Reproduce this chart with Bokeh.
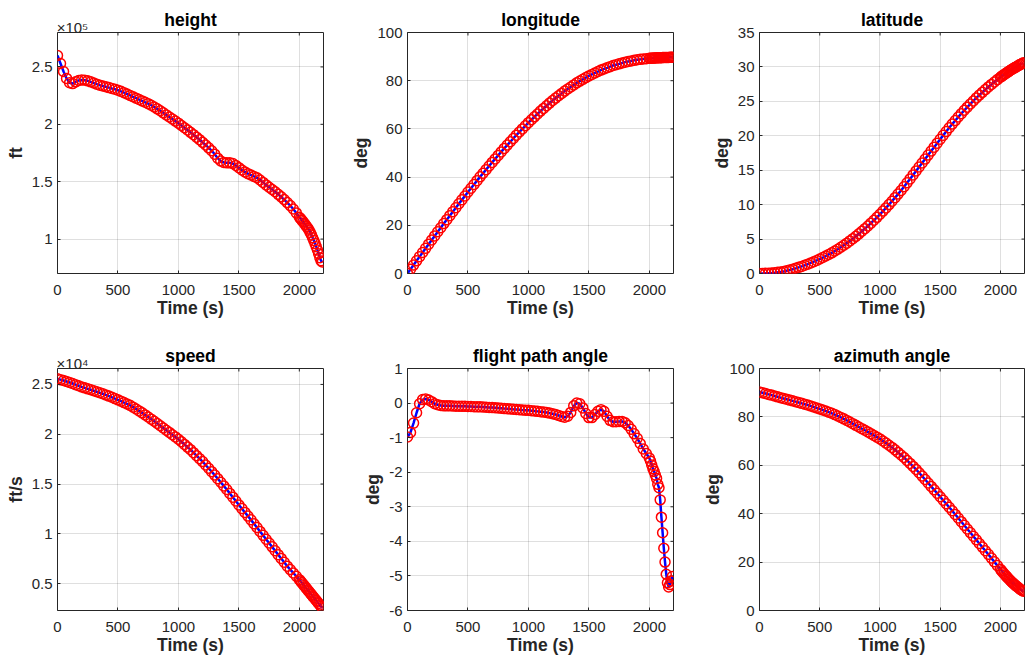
import math
from bokeh.plotting import figure
from bokeh.layouts import column, row
from bokeh.models import FixedTicker, LinearAxis, Range1d
from bokeh.embed import file_html
from bokeh.resources import INLINE

# ---------------- data ----------------
T = [0, 25, 50, 75, 100, 125, 150, 175, 200, 225,
     250, 275, 300, 325, 350, 375, 400, 425, 450, 475,
     500, 525, 550, 575, 600, 625, 650, 675, 700, 725,
     750, 775, 800, 825, 850, 875, 900, 925, 950, 975,
     1000, 1025, 1050, 1075, 1100, 1125, 1150, 1175, 1200, 1225,
     1250, 1275, 1300, 1325, 1350, 1375, 1400, 1425, 1450, 1475,
     1500, 1525, 1550, 1575, 1600, 1625, 1650, 1675, 1700, 1725,
     1750, 1775, 1800, 1825, 1850, 1875, 1900, 1925, 1950, 1975,
     2000,
     2010, 2020, 2030, 2040, 2050, 2060, 2070, 2080, 2090, 2100,
     2110, 2120, 2130, 2140, 2150, 2160, 2170, 2180, 2190]

HEIGHT_FT = [260000, 253000, 246000, 240000, 236200, 235500, 237000, 238200, 238600, 238500,
             237900, 237000, 236000, 235000, 234100, 233400, 232700, 232000, 231200, 230500,
             229700, 228700, 227600, 226400, 225200, 224000, 222800, 221600, 220400, 219200,
             218000, 216600, 215100, 213500, 211800, 210000, 208200, 206400, 204600, 202800,
             201000, 199000, 197000, 195000, 193000, 191000, 188800, 186600, 184300, 182000,
             179500, 177000, 174000, 170500, 168000, 166800, 166400, 166400, 165800, 164200,
             162200, 160200, 158500, 157000, 155800, 154600, 153400, 151500, 149400, 147200,
             145200, 143200, 141200, 139000, 136800, 134400, 131800, 129200, 126200, 122800,
             119000,
             117800, 116500, 115200, 113800, 112400, 111000, 109500, 107800, 105800, 103600,
             101200, 98800, 96200, 93400, 90400, 87200, 83800, 81000, 80000]

LONGITUDE_DEG = [0.0, 1.75, 3.5, 5.25, 7.0, 8.73, 10.45, 12.18, 13.9, 15.6,
                 17.3, 19.0, 20.7, 22.35, 24.0, 25.65, 27.3, 28.93, 30.55, 32.18,
                 33.8, 35.38, 36.95, 38.53, 40.1, 41.6, 43.1, 44.6, 46.1, 47.55,
                 49.0, 50.45, 51.9, 53.28, 54.65, 56.03, 57.4, 58.7, 60.0, 61.3,
                 62.6, 63.8, 65.0, 66.2, 67.4, 68.5, 69.6, 70.7, 71.8, 72.78,
                 73.75, 74.73, 75.7, 76.55, 77.4, 78.25, 79.1, 79.83, 80.55, 81.28,
                 82.0, 82.6, 83.2, 83.8, 84.4, 84.88, 85.35, 85.83, 86.3, 86.65,
                 87.0, 87.35, 87.7, 87.95, 88.2, 88.45, 88.7, 88.85, 89.0, 89.15,
                 89.3,
                 89.33, 89.36, 89.39, 89.42, 89.45, 89.48, 89.5, 89.52, 89.55, 89.57,
                 89.59, 89.61, 89.63, 89.65, 89.66, 89.67, 89.68, 89.69, 89.7]

LATITUDE_DEG = [0.0, 0.0, 0.02, 0.05, 0.08, 0.12, 0.17, 0.23, 0.3, 0.4,
                0.5, 0.62, 0.75, 0.89, 1.03, 1.19, 1.35, 1.53, 1.71, 1.9,
                2.1, 2.32, 2.54, 2.77, 3.0, 3.26, 3.53, 3.81, 4.1, 4.41,
                4.73, 5.06, 5.4, 5.76, 6.13, 6.51, 6.9, 7.31, 7.73, 8.16,
                8.6, 9.06, 9.53, 10.01, 10.5, 11.01, 11.53, 12.06, 12.6, 13.17,
                13.74, 14.32, 14.9, 15.47, 16.05, 16.62, 17.2, 17.78, 18.35, 18.93,
                19.5, 20.06, 20.61, 21.16, 21.7, 22.21, 22.72, 23.21, 23.7, 24.16,
                24.61, 25.06, 25.5, 25.91, 26.31, 26.71, 27.1, 27.46, 27.81, 28.16,
                28.5,
                28.63, 28.76, 28.88, 29.0, 29.12, 29.24, 29.36, 29.48, 29.59, 29.7,
                29.8, 29.9, 30.0, 30.1, 30.2, 30.3, 30.4, 30.5, 30.6]

SPEED_FTS = [25560, 25480, 25390, 25300, 25200, 25090, 24980, 24870, 24750, 24660,
             24560, 24470, 24370, 24270, 24160, 24060, 23950, 23830, 23710, 23580,
             23450, 23320, 23180, 23040, 22900, 22720, 22530, 22340, 22150, 21940,
             21730, 21510, 21300, 21080, 20850, 20630, 20400, 20180, 19950, 19730,
             19500, 19240, 18980, 18710, 18450, 18150, 17850, 17550, 17250, 16910,
             16580, 16240, 15900, 15540, 15180, 14810, 14450, 14060, 13680, 13290,
             12900, 12530, 12150, 11780, 11400, 11010, 10630, 10240, 9850, 9460,
             9080, 8690, 8300, 7910, 7530, 7140, 6750, 6410, 6070, 5740,
             5400,
             5250, 5100, 4950, 4800, 4650, 4500, 4350, 4200, 4050, 3900,
             3750, 3600, 3450, 3300, 3150, 3000, 2850, 2700, 2550]

FPA_DEG = [-0.98, -0.85, -0.58, -0.28, -0.02, 0.10, 0.12, 0.09, 0.04, -0.02,
           -0.05, -0.07, -0.08, -0.08, -0.08, -0.085, -0.09, -0.09, -0.095, -0.095,
           -0.10, -0.10, -0.105, -0.11, -0.11, -0.115, -0.12, -0.125, -0.13, -0.135,
           -0.14, -0.15, -0.16, -0.165, -0.17, -0.18, -0.185, -0.19, -0.20, -0.205,
           -0.21, -0.22, -0.23, -0.24, -0.25, -0.26, -0.27, -0.29, -0.31, -0.33,
           -0.36, -0.39, -0.41, -0.38, -0.27, -0.08, 0.0, -0.02, -0.14, -0.30,
           -0.42, -0.42, -0.33, -0.24, -0.19, -0.24, -0.38, -0.50, -0.54, -0.54,
           -0.53, -0.53, -0.57, -0.65, -0.76, -0.89, -1.02, -1.17, -1.33, -1.46,
           -1.59,
           -1.68, -1.79, -1.90, -1.98, -2.08, -2.18, -2.35, -2.45, -2.80, -3.30,
           -3.75, -4.20, -4.60, -4.95, -5.20, -5.32, -5.25, -5.15, -5.02]

AZIMUTH_DEG = [90.3, 90.0, 89.65, 89.3, 89.0, 88.65, 88.3, 87.95, 87.6, 87.28,
               86.95, 86.63, 86.3, 85.95, 85.6, 85.25, 84.9, 84.5, 84.1, 83.7,
               83.3, 82.86, 82.42, 81.96, 81.5, 80.95, 80.37, 79.8, 79.2, 78.54,
               77.87, 77.2, 76.5, 75.83, 75.15, 74.48, 73.8, 73.08, 72.35, 71.63,
               70.9, 70.05, 69.18, 68.3, 67.4, 66.38, 65.33, 64.27, 63.2, 62.0,
               60.78, 59.55, 58.3, 56.93, 55.53, 54.12, 52.7, 51.28, 49.85, 48.43,
               47.0, 45.55, 44.1, 42.65, 41.2, 39.7, 38.2, 36.7, 35.2, 33.7,
               32.2, 30.7, 29.2, 27.7, 26.2, 24.7, 23.2, 21.65, 20.1, 18.55,
               17.0,
               16.4, 15.8, 15.2, 14.65, 14.1, 13.55, 13.0, 12.5, 12.0, 11.5,
               11.05, 10.6, 10.2, 9.8, 9.4, 9.0, 8.6, 8.3, 8.0]

X_LIMITS = (0, 2200)
X_TICKS = [0, 500, 1000, 1500, 2000]
HEIGHT_TICKS = [100000, 150000, 200000, 250000]
HEIGHT_LABELS = ["1", "1.5", "2", "2.5"]
LON_TICKS = [0, 20, 40, 60, 80, 100]
LAT_TICKS = [0, 5, 10, 15, 20, 25, 30, 35]
SPEED_TICKS = [5000, 10000, 15000, 20000, 25000]
SPEED_LABELS = ["0.5", "1", "1.5", "2", "2.5"]
FPA_TICKS = [-6, -5, -4, -3, -2, -1, 0, 1]
AZ_TICKS = [0, 20, 40, 60, 80, 100]

FONT = "Liberation Sans"
AX = "#262626"

# layout geometry (borders around each plot frame, pixels)
COL_LEFT = [57, 67, 73]
COL_RIGHT = [17, 13, 1]
COL_FRAME_W = [266, 266, 265]
ROW_TOP = [32, 44]
ROW_BOTTOM = [51, 48]
ROW_FRAME_H = [241, 242]
EXP_ANCHOR_X = 124   # x position (s) where the "x10^n" multiplier is centred


def panel(title, ylabel, y, yrange, yticks, ylabels, col, rw, exponent=None):
    left, right, fw = COL_LEFT[col], COL_RIGHT[col], COL_FRAME_W[col]
    top, bottom, fh = ROW_TOP[rw], ROW_BOTTOM[rw], ROW_FRAME_H[rw]
    p = figure(width=left + fw + right, height=top + fh + bottom,
               x_range=Range1d(*X_LIMITS), y_range=Range1d(*yrange),
               output_backend="svg", toolbar_location=None,
               min_border_left=left, min_border_right=right,
               min_border_top=top, min_border_bottom=bottom,
               title=None if exponent else title,
               background_fill_color="white", border_fill_color="white")
    p.outline_line_color = AX
    p.outline_line_width = 1
    if not exponent:
        p.title.align = "center"
        p.title.text_font = FONT
        p.title.text_font_size = "17.5px"
        p.title.text_font_style = "bold"
        p.title.text_color = "black"
        p.title.standoff = 5

    xa = p.xaxis[0]
    ya = p.yaxis[0]
    for a in (xa, ya):
        a.axis_line_color = None
        a.major_tick_in = 3
        a.major_tick_out = 0
        a.major_tick_line_color = AX
        a.minor_tick_line_color = None
        a.major_label_text_font = FONT
        a.major_label_text_font_size = "15px"
        a.major_label_text_color = AX
        a.axis_label_text_font = FONT
        a.axis_label_text_font_size = "17.5px"
        a.axis_label_text_font_style = "bold"
        a.axis_label_text_color = AX
    xa.ticker = FixedTicker(ticks=X_TICKS)
    xa.axis_label = "Time (s)"
    xa.major_label_standoff = 11
    xa.axis_label_standoff = 0
    ya.ticker = FixedTicker(ticks=yticks)
    ya.major_label_overrides = {v: s for v, s in zip(yticks, ylabels)}
    ya.axis_label = ylabel
    ya.major_label_standoff = 5
    ya.axis_label_standoff = 3

    p.xgrid.ticker = FixedTicker(ticks=X_TICKS)
    p.ygrid.ticker = FixedTicker(ticks=yticks)
    p.grid.grid_line_color = AX
    p.grid.grid_line_alpha = 0.15
    p.grid.grid_line_width = 1

    # mirrored inward tick marks on top and right edges (half of each dash
    # is clipped away by the frame, leaving a short inward tick)
    p.scatter(X_TICKS, [yrange[1]] * len(X_TICKS), marker="dash", size=6,
              angle=math.pi / 2, line_color=AX, line_width=1)
    p.scatter([X_LIMITS[1]] * len(yticks), yticks, marker="dash", size=6,
              angle=0, line_color=AX, line_width=1)

    p.line(T, y, line_color="#0000ff", line_width=2.5)
    p.scatter(T, y, marker="circle", size=10, line_color="#ff0000",
              fill_color=None, line_width=1.5)

    if exponent:
        # top axis: its single tick label carries the "x10^n" multiplier,
        # its axis label carries the panel title
        top_ax = LinearAxis(ticker=FixedTicker(ticks=[EXP_ANCHOR_X]),
                            major_label_overrides={EXP_ANCHOR_X: "\u00d710" + exponent},
                            major_tick_in=0, major_tick_out=0,
                            axis_line_color=None, minor_tick_line_color=None,
                            major_label_standoff=-3,
                            major_label_text_font=FONT,
                            major_label_text_font_size="15px",
                            major_label_text_color=AX,
                            axis_label=title,
                            axis_label_text_font=FONT,
                            axis_label_text_font_size="17.5px",
                            axis_label_text_font_style="bold",
                            axis_label_text_color="black",
                            axis_label_standoff=-14)
        p.add_layout(top_ax, "above")
    return p


lon_lbl = [str(v) for v in LON_TICKS]
lat_lbl = [str(v) for v in LAT_TICKS]
fpa_lbl = [str(v) for v in FPA_TICKS]
az_lbl = [str(v) for v in AZ_TICKS]

p1 = panel("height", "ft", HEIGHT_FT, (70000, 280000), HEIGHT_TICKS, HEIGHT_LABELS, 0, 0, exponent="\u2075")
p2 = panel("longitude", "deg", LONGITUDE_DEG, (0, 100), LON_TICKS, lon_lbl, 1, 0)
p3 = panel("latitude", "deg", LATITUDE_DEG, (0, 35), LAT_TICKS, lat_lbl, 2, 0)
p4 = panel("speed", "ft/s", SPEED_FTS, (2300, 26600), SPEED_TICKS, SPEED_LABELS, 0, 1, exponent="\u2074")
p5 = panel("flight path angle", "deg", FPA_DEG, (-6, 1), FPA_TICKS, fpa_lbl, 1, 1)
p6 = panel("azimuth angle", "deg", AZIMUTH_DEG, (0, 100), AZ_TICKS, az_lbl, 2, 1)

layout = column(row(p1, p2, p3), row(p4, p5, p6))

open("out.html", "w").write(file_html(layout, INLINE, title="trajectory"))
